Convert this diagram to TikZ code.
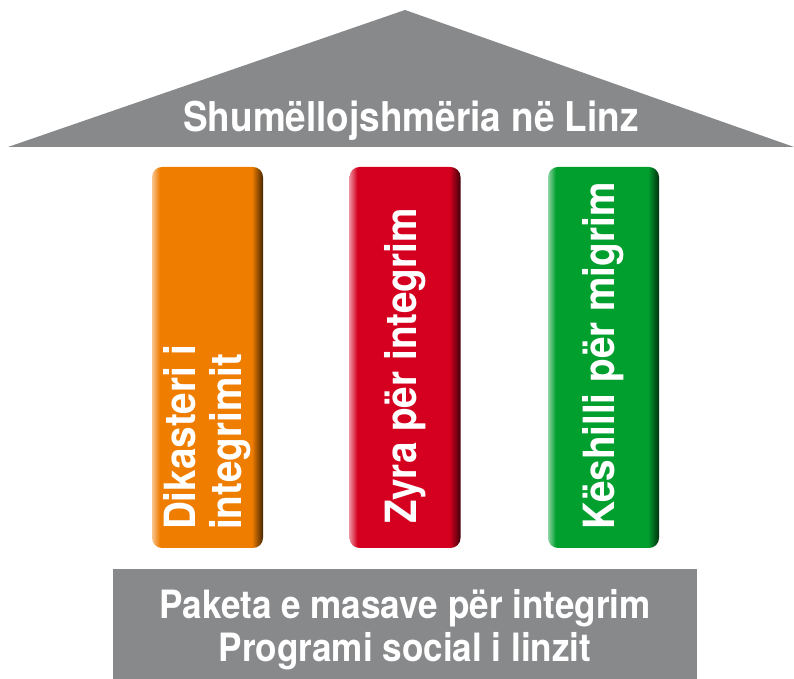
\documentclass[tikz,border=0pt]{standalone}
\usepackage{fontspec}
\setmainfont{TeX Gyre Heros}[FakeStretch=0.9]
\usetikzlibrary{positioning}
\definecolor{roofgray}{RGB}{136,137,139}
\definecolor{pillarA}{RGB}{239,125,0}
\definecolor{pillarB}{RGB}{213,0,31}
\definecolor{pillarC}{RGB}{0,159,46}

% light left edge, dark right edge
\newcommand{\pillarshading}[2]{%
  \pgfdeclarehorizontalshading{#1}{100bp}{color(0bp)=(#2!45!white); color(25bp)=(#2!45!white);
    color(28.5bp)=(#2); color(70bp)=(#2); color(75bp)=(#2!30!black); color(100bp)=(#2!30!black)}}
\pillarshading{shadeA}{pillarA}
\pillarshading{shadeB}{pillarB}
\pillarshading{shadeC}{pillarC}

\begin{document}
\begin{tikzpicture}[x=1pt, y=1pt,
    bigtext/.style={text=white, font=\bfseries\fontsize{39}{43}\selectfont, inner sep=0pt},
    pillar/.style={shade, rounded corners=10pt, minimum width=111pt, minimum height=381pt, inner sep=0pt},
    pillartext/.style={bigtext, font=\bfseries\fontsize{43}{46}\selectfont, rotate=90, anchor=west, align=left}]
    \useasboundingbox (0,0) rectangle (794,679);

    % Roof
    \fill[roofgray] (8,532) -- (405,669) -- (794,532) -- cycle;
    \node[bigtext, font=\bfseries\fontsize{41}{45}\selectfont, anchor=base] (roof) at (411,547) {Shumëllojshmëria në Linz};

    % Pillars
    \node[pillar, shading=shadeA] (dik) at (207.5,321.5) {};
    \node[pillar, shading=shadeB] (zyra) at (405,321.5) {};
    \node[pillar, shading=shadeC] (kes) at (603.5,321.5) {};
    \node[pillartext] (dikt) at ([yshift=18pt]dik.south) {Dikasteri i\\integrimit};
    \node[pillartext] (zyrat) at ([yshift=24pt]zyra.south) {Zyra për integrim};
    \node[pillartext] (kest) at ([yshift=18pt]kes.south) {Këshilli për migrim};

    % Base
    \fill[roofgray] (113,0) rectangle (697,110);
    \node[bigtext, align=center] (base) at (405,49) {Paketa e masave për integrim\\Programi social i linzit};
\end{tikzpicture}
\end{document}
